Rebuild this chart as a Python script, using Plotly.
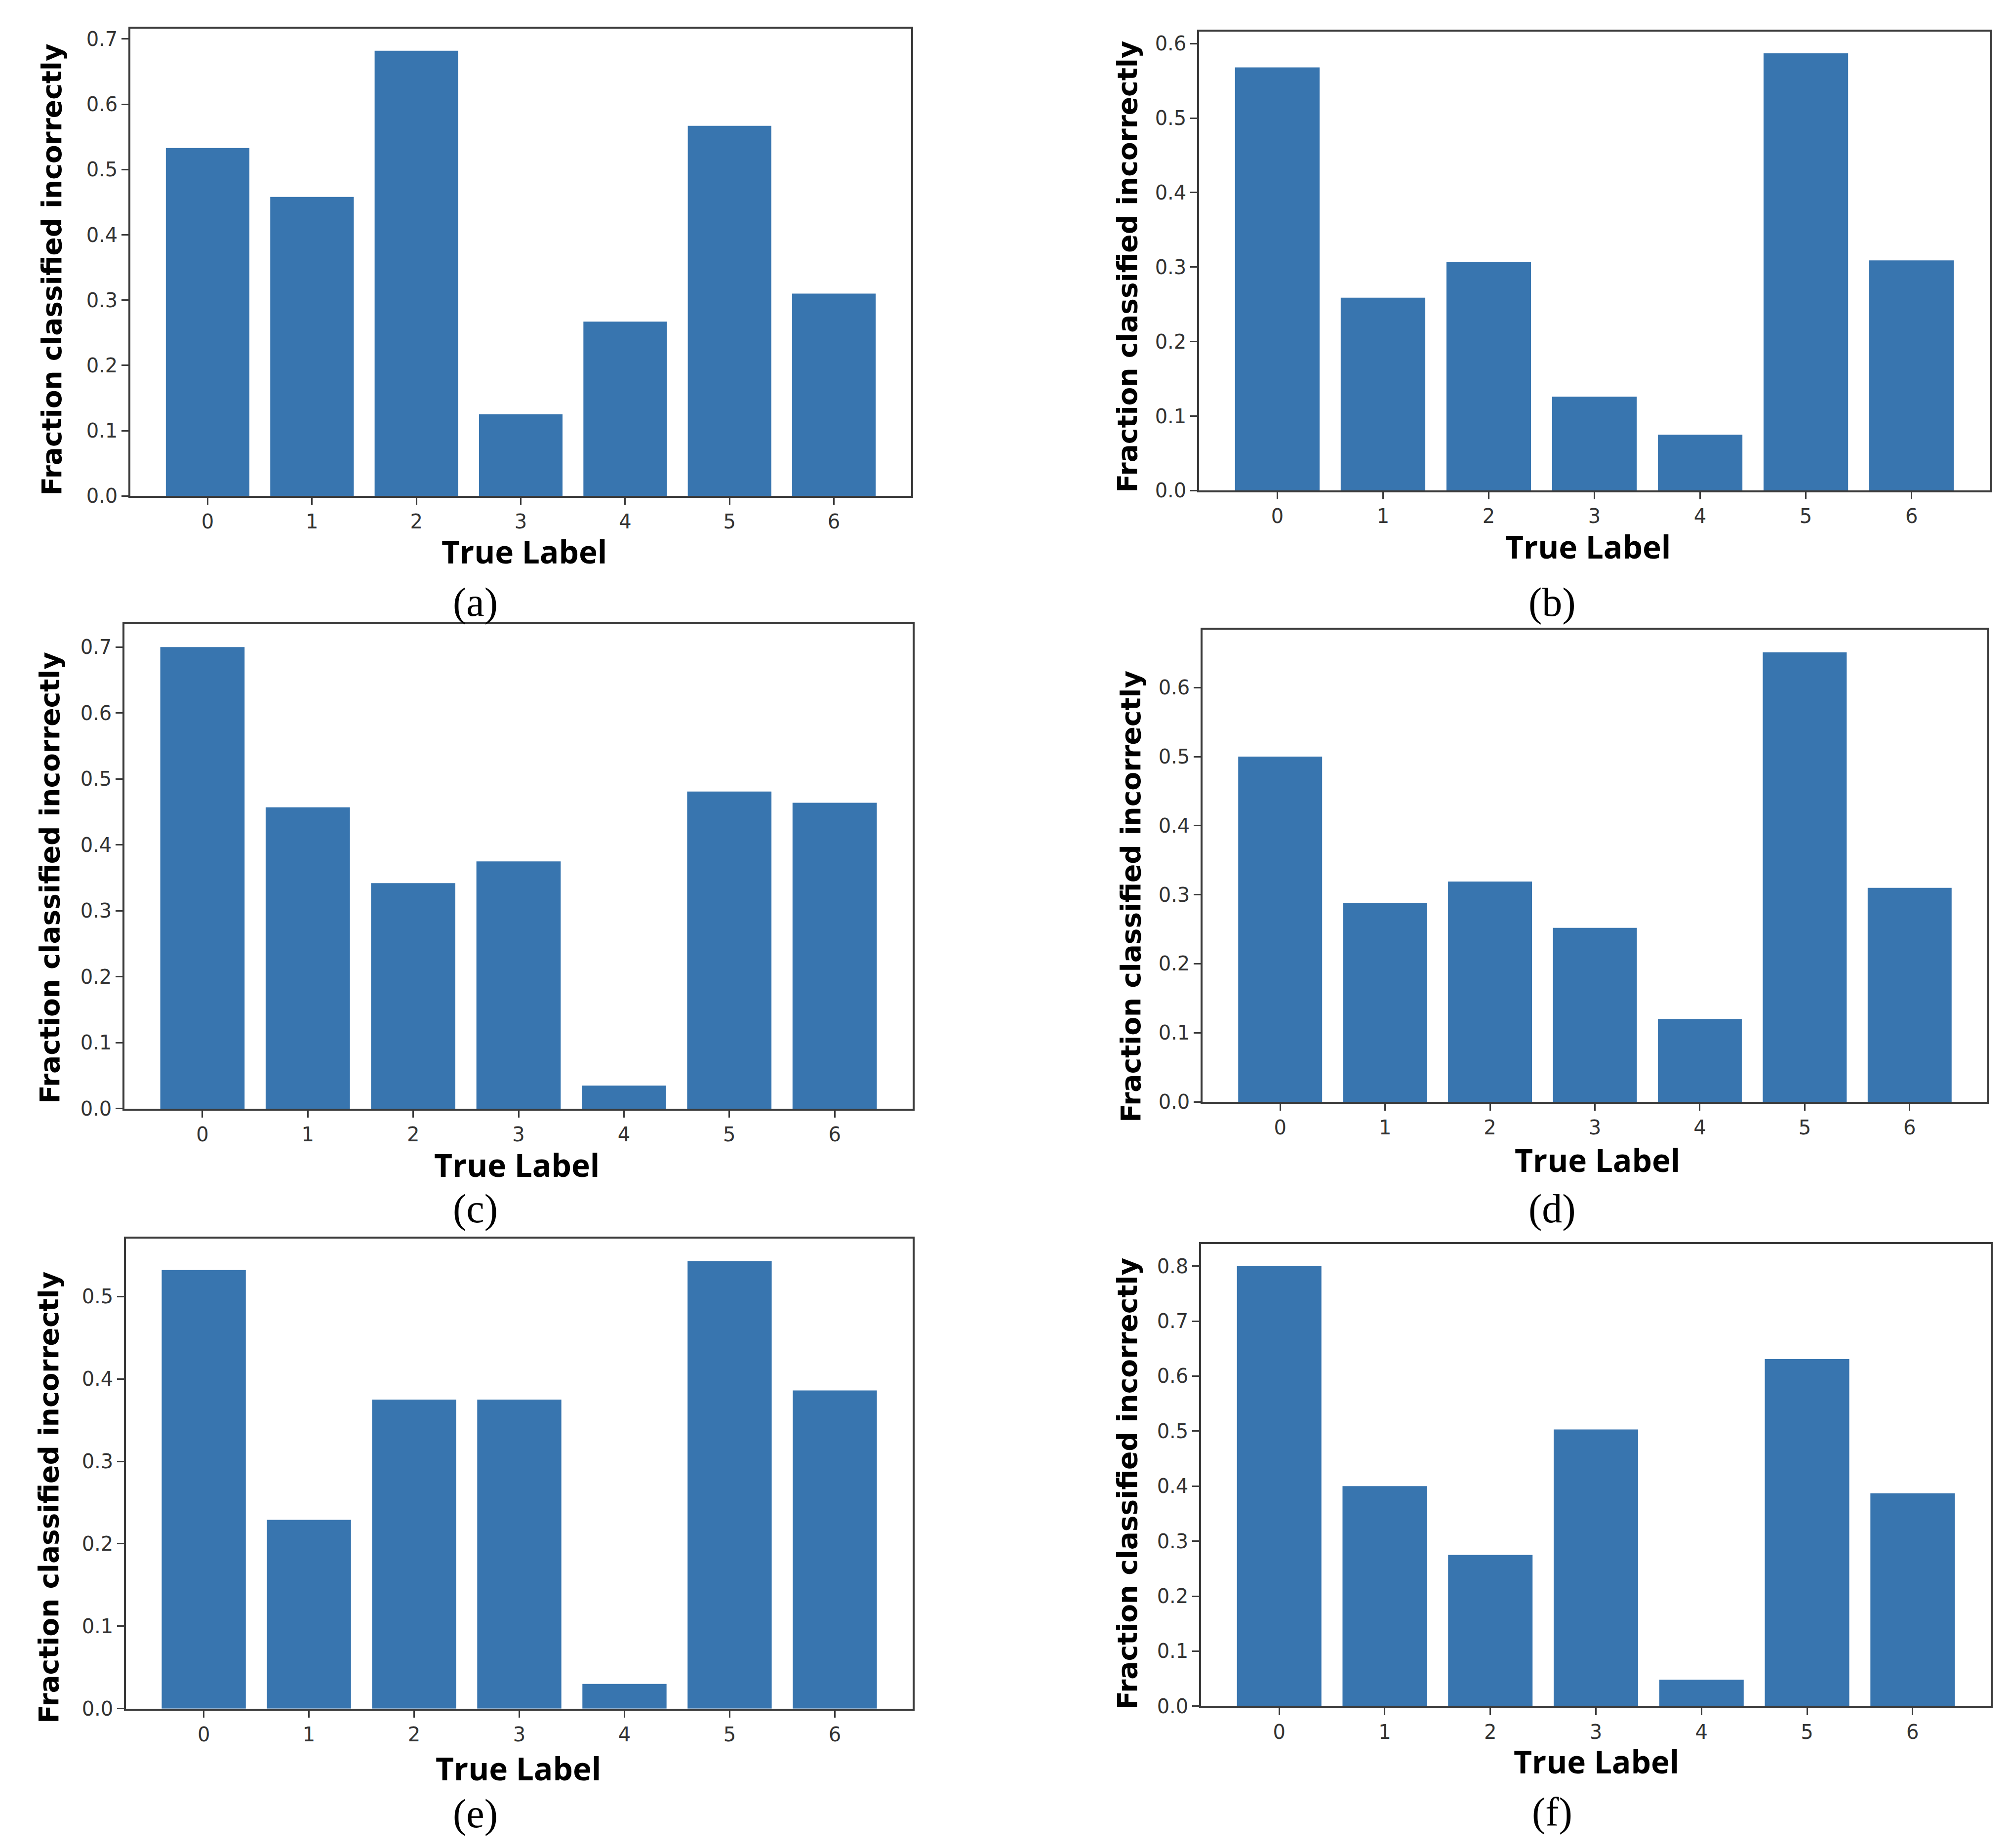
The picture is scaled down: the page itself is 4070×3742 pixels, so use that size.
import plotly.graph_objects as go

W, H = 4070, 3742

labels = [0, 1, 2, 3, 4, 5, 6]
vals_a = [0.533, 0.458, 0.682, 0.125, 0.267, 0.567, 0.310]
vals_b = [0.568, 0.259, 0.307, 0.126, 0.075, 0.587, 0.309]
vals_c = [0.700, 0.457, 0.342, 0.375, 0.035, 0.481, 0.464]
vals_d = [0.500, 0.288, 0.319, 0.252, 0.120, 0.651, 0.310]
vals_e = [0.532, 0.229, 0.375, 0.375, 0.030, 0.543, 0.386]
vals_f = [0.800, 0.400, 0.275, 0.503, 0.048, 0.631, 0.387]
panel_names = ["(a)", "(b)", "(c)", "(d)", "(e)", "(f)"]
x_title = "True Label"
y_title = "Fraction classified incorrectly"

series = [vals_a, vals_b, vals_c, vals_d, vals_e, vals_f]

# layout boxes in pixels: (left, right, top, bottom)
boxes = [
    (256, 1837, 48, 1001),
    (2420, 4021, 54, 990),
    (244, 1840, 1262, 2250),
    (2427, 4016, 1274, 2236),
    (247, 1840, 2515, 3473),
    (2424, 4023, 2526, 3468),
]
xtitle_pos = [(1053, 1114), (3207, 1104), (1038, 2364), (3226, 2354), (1041, 3595), (3224, 3580)]
ytitle_pos = [(97, 540), (2275, 534), (93, 1780), (2282, 1818), (91, 3043), (2275, 3015)]
plabel_pos = [(954, 1218), (3135, 1218), (954, 2454), (3135, 2454), (954, 3687), (3135, 3684)]

BAR = "#3875AF"
FRAME = "#3a3a3a"
TICKC = "#333333"

def px(x):
    return x / W

def py(y):
    return 1 - y / H

fig = go.Figure()
annotations = []
layout = dict(width=W, height=H, margin=dict(l=0, r=0, t=0, b=0),
              plot_bgcolor="white", paper_bgcolor="white", showlegend=False,
              bargap=0.2)

for i, vals in enumerate(series):
    n = "" if i == 0 else str(i + 1)
    fig.add_trace(go.Bar(x=labels, y=vals, xaxis="x" + n, yaxis="y" + n,
                         marker=dict(color=BAR, line=dict(width=0)), width=0.8))
    l, r, t, b = boxes[i]
    axis_common = dict(showline=True, mirror=True, linecolor=FRAME, linewidth=3.5,
                       ticks="outside", ticklen=14, tickwidth=3, tickcolor=FRAME,
                       showgrid=False, zeroline=False,
                       tickfont=dict(family="DejaVu Sans", size=40, color=TICKC))
    layout["xaxis" + n] = dict(domain=[px(l), px(r)], anchor="y" + n,
                              range=[-0.74, 6.74], tickmode="array",
                              tickvals=labels, ticktext=[str(v) for v in labels],
                              **axis_common)
    layout["yaxis" + n] = dict(domain=[py(b), py(t)], anchor="x" + n,
                              range=[0, max(vals) * 1.05], dtick=0.1,
                              tickformat=".1f", **axis_common)
    xt, yt = xtitle_pos[i]
    annotations.append(dict(text="<b>" + x_title + "</b>", x=px(xt), y=py(yt),
                            xref="paper", yref="paper", showarrow=False,
                            xanchor="center", yanchor="middle",
                            font=dict(family="Open Sans", size=64, color="black")))
    xt, yt = ytitle_pos[i]
    annotations.append(dict(text="<b>" + y_title + "</b>", x=px(xt), y=py(yt),
                            xref="paper", yref="paper", showarrow=False,
                            textangle=-90, xanchor="center", yanchor="middle",
                            font=dict(family="DejaVu Sans", size=55, color="black")))
    xt, yt = plabel_pos[i]
    annotations.append(dict(text=panel_names[i], x=px(xt), y=py(yt),
                            xref="paper", yref="paper", showarrow=False,
                            xanchor="center", yanchor="middle",
                            font=dict(family="Liberation Serif", size=82, color="black")))

layout["annotations"] = annotations
fig.update_layout(**layout)
fig.write_html("out.html")
